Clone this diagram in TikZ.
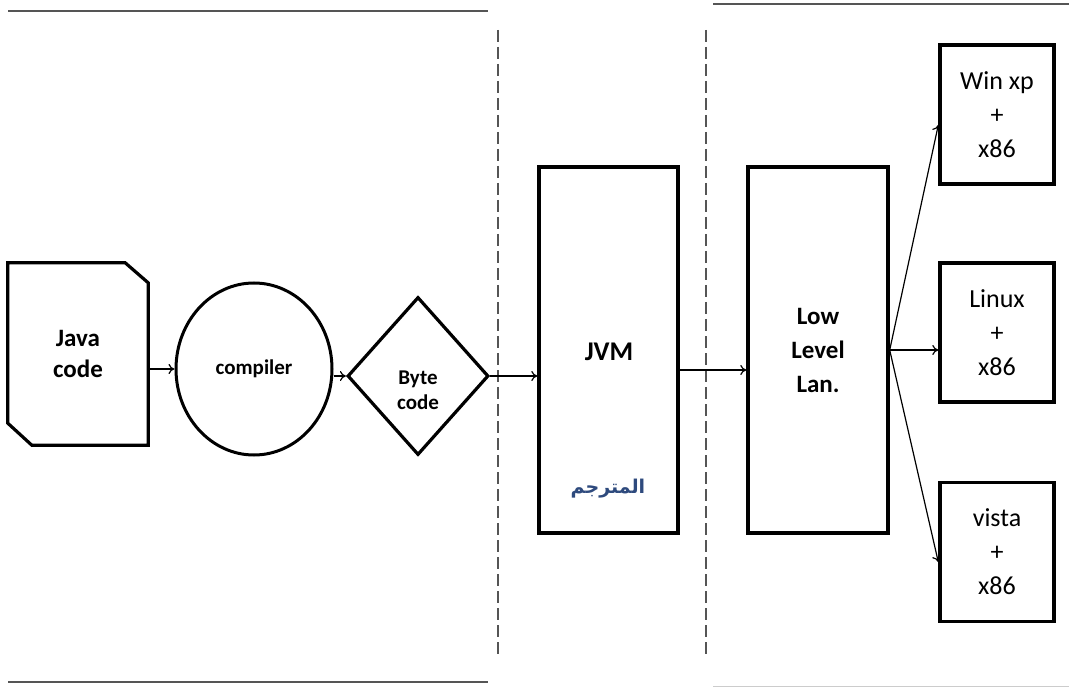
\documentclass[tikz,border=0pt]{standalone}
\usepackage{fontspec}
\setmainfont{Carlito}
\newfontfamily\arabicfont[Script=Arabic]{DejaVu Sans}
\TeXXeTstate=1
\usetikzlibrary{shapes.geometric,arrows.meta}
\definecolor{rulegray}{HTML}{555555}
\definecolor{arblue}{HTML}{2E4A7D}
\tikzset{
  thickbox/.style={draw=black,line width=3.4pt,rectangle,inner sep=0pt,align=center},
  conn/.style={line width=1.2pt,-{To[length=6pt,width=10pt]}},
  sep/.style={draw=rulegray,line width=1.6pt,dash pattern=on 12pt off 5pt},
  rulel/.style={draw=rulegray,line width=2.4pt},
  boldtxt/.style={font=\bfseries\fontsize{25}{31}\selectfont,align=center},
  regtxt/.style={font=\fontsize{26}{34}\selectfont,align=center}
}
\begin{document}
\begin{tikzpicture}[x=1pt,y=-1pt]
\useasboundingbox (0,0) rectangle (1069,687);
% rules
\draw[rulel] (8,11) -- (488,11);
\draw[rulel] (713,4) -- (1069,4);
\draw[rulel] (8,682) -- (488,682);
\draw[draw=rulegray!30,line width=1pt] (713,686) -- (1069,686);
\draw[sep] (498,30) -- (498,656);
\draw[sep] (706,30) -- (706,656);
% java code document shape
\node[minimum width=140pt,minimum height=182pt,inner sep=0pt,boldtxt] (java) at (78,354) {Java\\code};
\draw[line width=3.2pt,line join=miter] (java.north west) -- ([xshift=-23pt]java.north east) -- ([yshift=-20pt]java.north east) -- (java.south east) -- ([xshift=24pt]java.south west) -- ([yshift=22pt]java.south west) -- cycle;
% compiler
\node[ellipse,draw=black,line width=3pt,minimum width=156pt,minimum height=172pt,inner sep=0pt,font=\bfseries\fontsize{21}{25}\selectfont] (comp) at (254,369) {compiler};
% byte code diamond
\node[diamond,draw=black,line width=3.2pt,minimum width=141pt,minimum height=158pt,inner sep=0pt] (byte) at (418,376) {};
\node[font=\bfseries\fontsize{21}{25}\selectfont,align=center] (bytetxt) at (418,390) {Byte\\code};
% JVM
\node[thickbox,minimum width=139pt,minimum height=366pt] (jvm) at (608.5,350) {};
\node[font=\bfseries\fontsize{27}{32}\selectfont] (jvmtxt) at (609,352) {JVM};
\node[font=\arabicfont\bfseries\fontsize{19}{24}\selectfont,text=arblue] (arab) at (608,489) {\beginR المترجم\endR};
% Low level
\node[thickbox,minimum width=140pt,minimum height=366pt,font=\bfseries\fontsize{25}{34}\selectfont] (low) at (818,350) {Low\\Level\\Lan.};
% right boxes
\node[thickbox,minimum width=114pt,minimum height=139pt,regtxt] (win) at (997,114.5) {Win xp\\+\\x86};
\node[thickbox,minimum width=114pt,minimum height=139pt,regtxt] (linux) at (997,332.5) {Linux\\+\\x86};
\node[thickbox,minimum width=114pt,minimum height=139pt,regtxt] (vista) at (997,552) {vista\\+\\x86};
% connectors
\draw[conn] (java.east |- comp.west) -- (comp.west);
\draw[conn] (byte.west -| comp.east) -- (byte.west);
\draw[conn] (byte.east) -- (byte.east -| jvm.west);
\coordinate (jo) at ([yshift=-20pt]jvm.east);
\draw[conn] (jo) -- (jo -| low.west);
\draw[conn] (low.east) -- ([yshift=-10.5pt]win.west);
\draw[conn] (low.east) -- (low.east -| linux.west);
\draw[conn] (low.east) -- ([yshift=-10pt]vista.west);
\end{tikzpicture}
\end{document}
